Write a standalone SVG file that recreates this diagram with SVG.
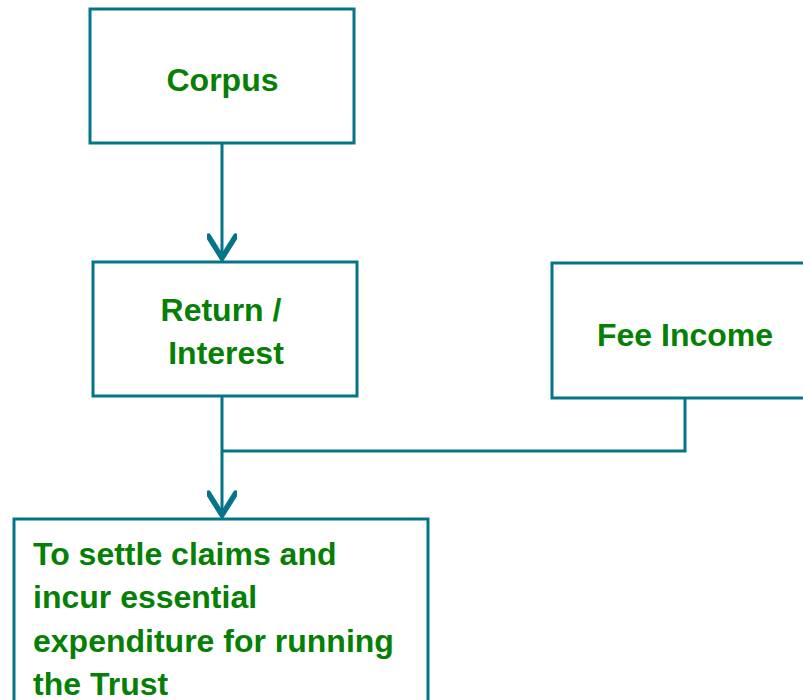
<svg xmlns="http://www.w3.org/2000/svg" width="803" height="700" viewBox="0 0 803 700">
<defs>
<style>
.box{fill:#ffffff;stroke:#057489;stroke-width:3;}
.lbl{font-family:"Liberation Sans",Arial,sans-serif;font-weight:bold;font-size:32px;fill:#058005;}
.c{text-anchor:middle;}
.conn{fill:none;stroke:#057489;stroke-width:3;}
</style>
<marker id="arr" markerUnits="userSpaceOnUse" markerWidth="30" markerHeight="30" refX="18" refY="11" orient="auto" viewBox="0 0 22 22">
<path d="M2,1 L18,11 L2,21" fill="none" stroke="#057489" stroke-width="4" stroke-linecap="round" stroke-linejoin="miter"/>
</marker>
</defs>
<rect width="803" height="700" fill="#ffffff"/>
<g id="corpus">
<rect class="box" x="90" y="9" width="264" height="134"/>
<text class="lbl c" x="222.5" y="91">Corpus</text>
</g>
<g id="return">
<rect class="box" x="93" y="262" width="264" height="134"/>
<text class="lbl c" x="221" y="321">Return /</text>
<text class="lbl c" x="226" y="364">Interest</text>
</g>
<g id="fee">
<rect class="box" x="552" y="263" width="260" height="135"/>
<text class="lbl c" x="685" y="346">Fee Income</text>
</g>
<g id="settle">
<rect class="box" x="14" y="519" width="414" height="200"/>
<text class="lbl" x="33" y="565">To settle claims and</text>
<text class="lbl" x="33" y="608">incur essential</text>
<text class="lbl" x="33" y="652">expenditure for running</text>
<text class="lbl" x="33" y="695">the Trust</text>
</g>
<g id="connectors">
<line class="conn" x1="222" y1="143" x2="222" y2="258" marker-end="url(#arr)"/>
<line class="conn" x1="222" y1="396" x2="222" y2="515" marker-end="url(#arr)"/>
<polyline class="conn" points="685,398 685,451 222,451"/>
</g>
</svg>
